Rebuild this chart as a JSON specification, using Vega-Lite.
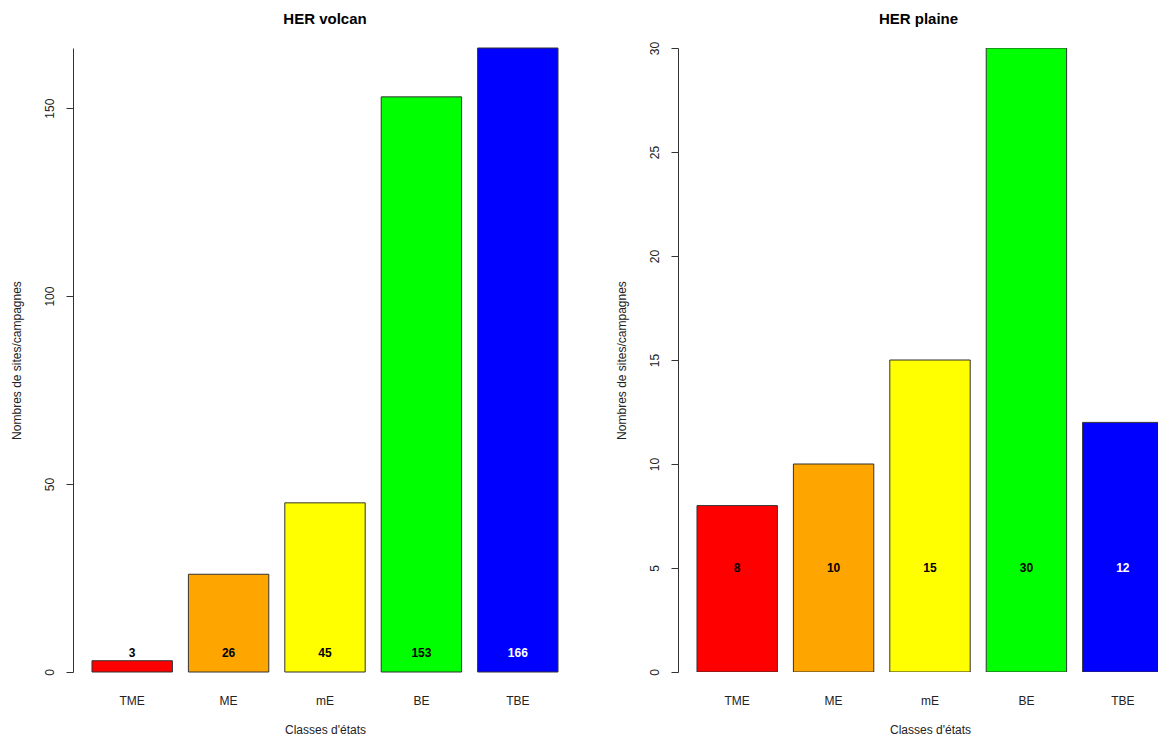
{
  "$schema": "https://vega.github.io/schema/vega-lite/v6.json",
  "padding": {"left": 10, "top": 11, "right": 0, "bottom": 4},
  "background": "white",
  "config": {
    "font": "Liberation Sans",
    "view": {"stroke": null},
    "concat": {"spacing": 101},
    "title": {"fontSize": 15, "fontWeight": "bold", "color": "black", "anchor": "middle", "offset": 18},
    "axisY": {
      "domainColor": "#333", "tickColor": "#333", "tickSize": 7, "labelAngle": -90, "labelAlign": "center", "labelBaseline": "bottom",
      "labelFontSize": 12, "labelColor": "#222", "labelPadding": 10, "grid": false, "minExtent": 40, "maxExtent": 40,
      "titleFontSize": 12, "titleFontWeight": "normal", "titleColor": "#222", "titlePadding": 10
    },
    "axisX": {
      "domain": false, "ticks": false, "labelAngle": 0, "labelFontSize": 12, "labelColor": "#222", "labelPadding": 23,
      "titleFontSize": 12, "titleFontWeight": "normal", "titleColor": "#222", "titlePadding": 18
    }
  },
  "bounds": "flush",
  "datasets": {
    "volcan": [
      {"classe": "TME", "n": 3},
      {"classe": "ME", "n": 26},
      {"classe": "mE", "n": 45},
      {"classe": "BE", "n": 153},
      {"classe": "TBE", "n": 166}
    ],
    "plaine": [
      {"classe": "TME", "n": 8},
      {"classe": "ME", "n": 10},
      {"classe": "mE", "n": 15},
      {"classe": "BE", "n": 30},
      {"classe": "TBE", "n": 12}
    ]
  },
  "hconcat": [
    {
      "title": {"text": "HER volcan", "offset": 21},
      "width": 504,
      "height": 624,
      "data": {"name": "volcan"},
      "encoding": {
        "x": {"field": "classe", "type": "nominal", "sort": ["TME", "ME", "mE", "BE", "TBE"], "title": "Classes d'états",
              "scale": {"paddingInner": 0.166, "paddingOuter": 0.197}}
      },
      "layer": [
        {
          "mark": {"type": "bar", "stroke": "#333", "strokeWidth": 1},
          "encoding": {
            "y": {"field": "n", "type": "quantitative", "title": "Nombres de sites/campagnes",
                  "scale": {"domain": [0, 166], "nice": false, "zero": true},
                  "axis": {"values": [0, 50, 100, 150]}},
            "color": {"field": "classe", "type": "nominal", "legend": null,
                      "scale": {"domain": ["TME", "ME", "mE", "BE", "TBE"], "range": ["#ff0000", "#ffa500", "#ffff00", "#00ff00", "#0000ff"]}}
          }
        },
        {
          "mark": {"type": "text", "fontWeight": "bold", "fontSize": 12, "baseline": "middle"},
          "encoding": {
            "y": {"datum": 5, "type": "quantitative"},
            "text": {"field": "n", "type": "quantitative"},
            "color": {"condition": {"test": "datum.classe === 'TBE'", "value": "white"}, "value": "black"}
          }
        }
      ]
    },
    {
      "title": {"text": "HER plaine", "offset": 14},
      "width": 481,
      "height": 624,
      "data": {"name": "plaine"},
      "encoding": {
        "x": {"field": "classe", "type": "nominal", "sort": ["TME", "ME", "mE", "BE", "TBE"], "title": "Classes d'états",
              "scale": {"paddingInner": 0.166, "paddingOuter": 0.197, "range": [0, 504]}}
      },
      "layer": [
        {
          "mark": {"type": "bar", "stroke": "#333", "strokeWidth": 1, "clip": true},
          "encoding": {
            "y": {"field": "n", "type": "quantitative", "title": "Nombres de sites/campagnes",
                  "scale": {"domain": [0, 30], "nice": false, "zero": true},
                  "axis": {"values": [0, 5, 10, 15, 20, 25, 30]}},
            "color": {"field": "classe", "type": "nominal", "legend": null,
                      "scale": {"domain": ["TME", "ME", "mE", "BE", "TBE"], "range": ["#ff0000", "#ffa500", "#ffff00", "#00ff00", "#0000ff"]}}
          }
        },
        {
          "mark": {"type": "text", "fontWeight": "bold", "fontSize": 12, "baseline": "middle"},
          "encoding": {
            "y": {"datum": 5, "type": "quantitative"},
            "text": {"field": "n", "type": "quantitative"},
            "color": {"condition": {"test": "datum.classe === 'TBE'", "value": "white"}, "value": "black"}
          }
        }
      ]
    }
  ],
  "resolve": {"scale": {"y": "independent", "color": "independent", "x": "independent"}}
}
